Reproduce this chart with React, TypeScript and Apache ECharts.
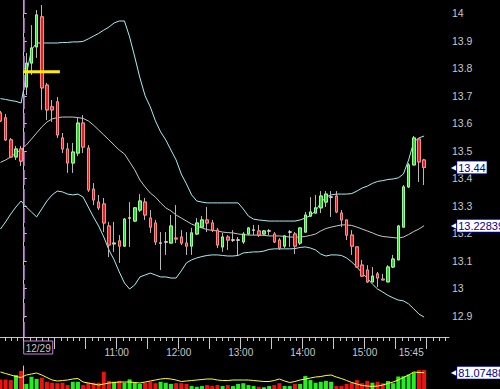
import React, { useEffect, useRef } from 'react';
import * as echarts from 'echarts';

// minutes from 12/29 09:30 (bar centres of 5-minute bars; first five belong to 12/28)
const barTimes = [
  -22.5, -17.5, -12.5, -7.5, -2.5,
  2.5, 7.5, 12.5, 17.5, 22.5, 27.5, 32.5, 37.5, 42.5, 47.5,
  52.5, 57.5, 62.5, 67.5, 72.5, 77.5, 82.5, 87.5, 92.5, 97.5,
  102.5, 107.5, 112.5, 117.5, 122.5, 127.5, 132.5, 137.5, 142.5, 147.5,
  152.5, 157.5, 162.5, 167.5, 172.5, 177.5, 182.5, 187.5, 192.5, 197.5,
  202.5, 207.5, 212.5, 217.5, 222.5, 227.5, 232.5, 237.5, 242.5, 247.5,
  252.5, 257.5, 262.5, 267.5, 272.5, 277.5, 282.5, 287.5, 292.5, 297.5,
  302.5, 307.5, 312.5, 317.5, 322.5, 327.5, 332.5, 337.5, 342.5, 347.5,
  352.5, 357.5, 362.5, 367.5, 372.5, 377.5, 382.5, 387.5,
];

const openP = [
  13.638, 13.620, 13.540, 13.478, 13.507,
  13.732, 13.819, 13.878, 13.987, 13.739, 13.660, 13.678, 13.547, 13.507, 13.456,
  13.492, 13.601, 13.510, 13.361, 13.314, 13.307, 13.227, 13.162, 13.173, 13.154,
  13.256, 13.245, 13.285, 13.314, 13.256, 13.238, 13.165, 13.169, 13.165, 13.183,
  13.187, 13.165, 13.154, 13.198, 13.223, 13.249, 13.238, 13.212, 13.151, 13.187,
  13.176, 13.176, 13.169, 13.198, 13.212, 13.209, 13.198, 13.209, 13.198, 13.176,
  13.154, 13.205, 13.198, 13.165, 13.205, 13.263, 13.274, 13.293, 13.314, 13.332,
  13.336, 13.274, 13.249, 13.194, 13.151, 13.085, 13.067, 13.024, 13.053, 13.034,
  13.024, 13.078, 13.104, 13.223, 13.369, 13.449, 13.543, 13.467,
];
const closeP = [
  13.609, 13.540, 13.478, 13.507, 13.463,
  13.819, 13.874, 13.994, 13.729, 13.649, 13.649, 13.558, 13.507, 13.456, 13.496,
  13.601, 13.514, 13.358, 13.322, 13.293, 13.238, 13.158, 13.165, 13.154, 13.252,
  13.256, 13.293, 13.318, 13.267, 13.223, 13.169, 13.165, 13.169, 13.227, 13.180,
  13.165, 13.154, 13.202, 13.238, 13.249, 13.238, 13.212, 13.158, 13.187, 13.176,
  13.176, 13.176, 13.198, 13.220, 13.212, 13.194, 13.209, 13.209, 13.169, 13.147,
  13.191, 13.205, 13.154, 13.220, 13.267, 13.278, 13.293, 13.336, 13.343, 13.332,
  13.278, 13.249, 13.194, 13.154, 13.078, 13.045, 13.024, 13.045, 13.038, 13.031,
  13.078, 13.107, 13.227, 13.369, 13.449, 13.547, 13.460, 13.44,
];
const lowP = [
  13.605, 13.536, 13.474, 13.467, 13.445,
  13.703, 13.776, 13.838, 13.649, 13.612, 13.605, 13.547, 13.492, 13.420, 13.420,
  13.481, 13.492, 13.351, 13.303, 13.285, 13.205, 13.114, 13.133, 13.093, 13.151,
  13.151, 13.242, 13.278, 13.249, 13.202, 13.158, 13.067, 13.122, 13.165, 13.165,
  13.158, 13.122, 13.122, 13.194, 13.220, 13.205, 13.205, 13.147, 13.133, 13.140,
  13.169, 13.122, 13.162, 13.194, 13.194, 13.187, 13.194, 13.194, 13.165, 13.140,
  13.147, 13.151, 13.125, 13.158, 13.202, 13.260, 13.274, 13.274, 13.296, 13.260,
  13.274, 13.223, 13.176, 13.122, 13.075, 13.042, 13.020, 13.024, 13.005, 13.031,
  13.024, 13.075, 13.104, 13.223, 13.365, 13.449, 13.387, 13.376,
];
const highP = [
  13.645, 13.634, 13.547, 13.518, 13.518,
  13.856, 13.957, 14.012, 14.030, 13.747, 13.685, 13.696, 13.565, 13.529, 13.529,
  13.620, 13.630, 13.521, 13.383, 13.340, 13.329, 13.242, 13.242, 13.194, 13.256,
  13.314, 13.296, 13.343, 13.329, 13.285, 13.249, 13.205, 13.205, 13.267, 13.303,
  13.212, 13.205, 13.220, 13.256, 13.263, 13.296, 13.249, 13.220, 13.202, 13.194,
  13.212, 13.187, 13.205, 13.223, 13.231, 13.231, 13.212, 13.216, 13.205, 13.183,
  13.194, 13.212, 13.205, 13.223, 13.278, 13.332, 13.340, 13.354, 13.354, 13.354,
  13.354, 13.285, 13.249, 13.212, 13.151, 13.104, 13.085, 13.078, 13.060, 13.053,
  13.085, 13.122, 13.231, 13.376, 13.456, 13.554, 13.547, 13.471,
];

const bollUpper = [
  13.690, 13.687, 13.683, 13.680, 13.674,
  13.776, 13.867, 13.892, 13.892, 13.892, 13.892, 13.892, 13.894, 13.894, 13.896,
  13.896, 13.898, 13.907, 13.917, 13.927, 13.939, 13.950, 13.965, 13.972, 13.972,
  13.914, 13.841, 13.765, 13.700, 13.660, 13.609, 13.569, 13.540, 13.503, 13.467,
  13.416, 13.380, 13.340, 13.318, 13.314, 13.311, 13.311, 13.311, 13.311, 13.311,
  13.311, 13.311, 13.289, 13.263, 13.252, 13.249, 13.247, 13.245, 13.245, 13.245,
  13.245, 13.245, 13.245, 13.249, 13.256, 13.265, 13.282, 13.311, 13.332, 13.340,
  13.343, 13.343, 13.343, 13.345, 13.354, 13.365, 13.372, 13.382, 13.389, 13.392,
  13.396, 13.398, 13.402, 13.416, 13.467, 13.532, 13.547, 13.554,
];
const bollMid = [
  13.458, 13.467, 13.478, 13.492, 13.505,
  13.521, 13.543, 13.565, 13.587, 13.605, 13.616, 13.621, 13.623, 13.623, 13.623,
  13.621, 13.618, 13.609, 13.594, 13.576, 13.558, 13.540, 13.521, 13.503, 13.489,
  13.460, 13.431, 13.394, 13.369, 13.347, 13.332, 13.311, 13.293, 13.282, 13.267,
  13.256, 13.245, 13.234, 13.227, 13.220, 13.214, 13.211, 13.209, 13.205, 13.203,
  13.202, 13.198, 13.196, 13.194, 13.194, 13.194, 13.193, 13.191, 13.191, 13.191,
  13.189, 13.187, 13.187, 13.187, 13.189, 13.193, 13.198, 13.209, 13.218, 13.223,
  13.227, 13.231, 13.231, 13.229, 13.223, 13.216, 13.209, 13.202, 13.194, 13.189,
  13.187, 13.185, 13.183, 13.187, 13.196, 13.207, 13.216, 13.22839,
];
const bollLower = [
  13.216, 13.242, 13.271, 13.296, 13.318,
  13.296, 13.278, 13.260, 13.289, 13.318, 13.340, 13.354, 13.351, 13.343, 13.340,
  13.343, 13.332, 13.296, 13.260, 13.227, 13.187, 13.140, 13.104, 13.060, 13.020,
  12.998, 13.013, 13.042, 13.049, 13.056, 13.049, 13.042, 13.042, 13.038, 13.038,
  13.064, 13.093, 13.104, 13.111, 13.116, 13.120, 13.122, 13.122, 13.120, 13.118,
  13.118, 13.120, 13.129, 13.131, 13.133, 13.133, 13.136, 13.142, 13.144, 13.144,
  13.144, 13.144, 13.145, 13.149, 13.151, 13.147, 13.140, 13.125, 13.118, 13.122,
  13.122, 13.120, 13.111, 13.096, 13.078, 13.056, 13.038, 13.016, 12.998, 12.987,
  12.975, 12.966, 12.958, 12.955, 12.944, 12.926, 12.907, 12.896,
];

const volume = [
  53, 53, 50, 71, 89,
  34, 64, 55, 60, 43, 39, 37, 39, 29, 43,
  43, 29, 39, 39, 39, 85, 47, 43, 47, 39,
  53, 39, 34, 39, 43, 37, 43, 39, 34, 37,
  37, 34, 25, 22, 25, 29, 25, 29, 25, 29,
  25, 34, 37, 29, 25, 22, 20, 25, 29, 37,
  25, 25, 34, 34, 67, 50, 39, 43, 47, 43,
  25, 25, 34, 39, 50, 37, 47, 39, 43, 37,
  46, 37, 65, 66, 73, 82, 92, 92,
];
const volumeMA = [
  84.0, 77.7, 71.4, 65.1, 60.9,
  71.4, 75.6, 79.8, 71.4, 60.9, 50.4, 46.2, 48.3, 50.4, 54.6,
  56.7, 42.0, 37.8, 33.6, 29.4, 33.6, 37.8, 39.9, 42.0, 42.0,
  42.0, 39.9, 37.8, 42.0, 46.2, 50.4, 54.6, 56.7, 54.6, 50.4,
  44.1, 46.2, 48.3, 50.4, 52.5, 54.6, 54.6, 50.4, 48.3, 48.3,
  50.4, 50.4, 50.4, 50.4, 48.3, 46.2, 44.1, 44.1, 48.3, 54.6,
  46.2, 39.9, 44.1, 50.4, 54.6, 58.8, 63.0, 65.1, 69.3, 71.4,
  63.0, 56.7, 48.3, 39.9, 33.6, 27.3, 25.2, 23.1, 25.2, 29.4,
  35.7, 42.0, 50.4, 60.9, 71.4, 84.0, 81.9, 81.07488,
];

const priceTicks = [12.9, 13, 13.1, 13.2, 13.3, 13.4, 13.5, 13.6, 13.7, 13.8, 13.9, 14];
const priceTickLabels = ['12.9', '13', '13.1', '13.2', '13.3', '13.4', '13.5', '13.6', '13.7', '13.8', '13.9', '14'];
const timeLabelValues = [90, 150, 210, 270, 330, 375];
const timeLabels = ['11:00', '12:00', '13:00', '14:00', '15:00', '15:45'];
const dayStart = 0;
const dayLabel = '12/29';
const priceMarkers = [13.44, 13.22839];
const priceMarkerLabels = ['13.44', '13.22839'];
const volumeMarkers = [81.07488];
const volumeMarkerLabels = ['81.07488'];
const openingLevel = 13.788;
const openingLevelTimes = [-0.5, 35];

const X_MIN = -22.94;
const X_MAX = 411.6;
const P_MIN = 12.8237;
const P_MAX = 14.0483;
const V_MAX = 109.2;

const FONT = '"Liberation Sans", Arial, sans-serif';

export default function App() {
  const ref = useRef<HTMLDivElement>(null);

  useEffect(() => {
    document.body.style.margin = '0';
    document.body.style.background = '#000';
    if (!ref.current) return;
    const chart = echarts.init(ref.current, undefined, { renderer: 'svg' });

    const majorTicks: number[] = [];
    for (let t = 0; t <= 390; t += 30) majorTicks.push(t);
    const minorTicks: number[] = [];
    for (let t = -18; t <= 408; t += 6) if (t % 30 !== 0) minorTicks.push(t);

    const candleFull = barTimes.map((t, i) => [t, openP[i], closeP[i], lowP[i], highP[i]]);
    const candleBody = barTimes.map((t, i) => {
      const o = openP[i];
      const c = closeP[i];
      const item: any = { value: [t, o, c, Math.min(o, c), Math.max(o, c)] };
      if (o === c) item.itemStyle = { borderColor: '#d8d8d8', borderColor0: '#d8d8d8' };
      return item;
    });
    const line = (arr: number[]) => barTimes.map((t, i) => [t, arr[i]]);
    const volData = barTimes.map((t, i) => ({
      value: [t, volume[i]],
      itemStyle: { color: closeP[i] >= openP[i] ? '#22ee22' : '#ee1111' },
    }));

    const labelBox = {
      a: { color: '#ffffff', fontSize: 8, textBorderColor: '#000080', textBorderWidth: 1, fontFamily: 'DejaVu Sans' },
      b: {
        backgroundColor: '#ffffff',
        borderColor: '#000080',
        borderWidth: 1,
        color: '#000099',
        fontSize: 11,
        lineHeight: 11,
        padding: [1, 1, 0, 1],
        fontFamily: FONT,
      },
    };

    chart.setOption({
      animation: false,
      backgroundColor: '#000000',
      grid: [
        { left: 0, top: 0, width: 449, height: 337, containLabel: false, outerBoundsMode: 'none' },
        { left: 0, top: 366, width: 449, height: 26, containLabel: false, outerBoundsMode: 'none' },
      ],
      xAxis: [
        {
          type: 'value', gridIndex: 0, min: X_MIN, max: X_MAX, position: 'bottom',
          axisLine: { show: true, lineStyle: { color: '#c8c8c8', width: 1 } },
          axisTick: { show: true, customValues: majorTicks, length: 12, lineStyle: { color: '#c8c8c8' } },
          axisLabel: {
            show: true, customValues: timeLabelValues, margin: 10,
            formatter: (v: number) => timeLabels[timeLabelValues.indexOf(v)] ?? '',
            color: '#c8c8c8', fontSize: 10, fontFamily: FONT,
          },
          splitLine: { show: false },
        },
        {
          type: 'value', gridIndex: 0, min: X_MIN, max: X_MAX, position: 'bottom',
          axisLine: { show: false },
          axisTick: { show: true, customValues: minorTicks, length: 4, lineStyle: { color: '#c8c8c8' } },
          axisLabel: { show: false },
          splitLine: { show: false },
        },
        {
          type: 'value', gridIndex: 0, min: X_MIN, max: X_MAX, position: 'bottom',
          axisLine: { show: false },
          axisTick: { show: false },
          axisLabel: {
            show: true, customValues: [dayStart], margin: 4, align: 'left',
            formatter: () => dayLabel,
            color: '#c8c8c8', fontSize: 10, fontFamily: FONT,
            borderColor: '#c67fe0', borderWidth: 1, padding: [2, 2, 1, 2],
          },
          splitLine: { show: false },
        },
        {
          type: 'value', gridIndex: 1, min: X_MIN, max: X_MAX, show: false,
          splitLine: { show: false },
        },
      ],
      yAxis: [
        {
          type: 'value', gridIndex: 0, min: P_MIN, max: P_MAX, position: 'right',
          axisLine: { show: true, lineStyle: { color: '#c8c8c8', width: 1 } },
          axisTick: { show: true, customValues: priceTicks, length: 3, lineStyle: { color: '#c8c8c8' } },
          axisLabel: {
            show: true, customValues: priceTicks, margin: 3, align: 'left',
            formatter: (v: number) => priceTickLabels[priceTicks.indexOf(v)] ?? '',
            color: '#c8c8c8', fontSize: 10.5, fontFamily: FONT,
          },
          splitLine: { show: false },
        },
        {
          type: 'value', gridIndex: 0, min: P_MIN, max: P_MAX, position: 'right',
          axisLine: { show: false },
          axisTick: { show: false },
          axisLabel: {
            show: true, customValues: priceMarkers, margin: 2, align: 'left',
            formatter: (v: number) => `{a|◀}{b|${priceMarkerLabels[priceMarkers.indexOf(v)] ?? ''}}`,
            rich: labelBox,
          },
          splitLine: { show: false },
        },
        {
          type: 'value', gridIndex: 1, min: 0, max: V_MAX, position: 'right',
          axisLine: { show: true, lineStyle: { color: '#c8c8c8', width: 1 } },
          axisTick: { show: false },
          axisLabel: {
            show: true, customValues: volumeMarkers, margin: 2, align: 'left',
            formatter: (v: number) => `{a|◀}{b|${volumeMarkerLabels[volumeMarkers.indexOf(v)] ?? ''}}`,
            rich: labelBox,
          },
          splitLine: { show: false },
        },
      ],
      series: [
        {
          type: 'line', xAxisIndex: 0, yAxisIndex: 0, data: line(bollUpper),
          showSymbol: false, symbol: 'none', lineStyle: { color: '#a6eef2', width: 1 }, z: 2,
        },
        {
          type: 'line', xAxisIndex: 0, yAxisIndex: 0, data: line(bollMid),
          showSymbol: false, symbol: 'none', lineStyle: { color: '#c8c8c8', width: 1 }, z: 2,
        },
        {
          type: 'line', xAxisIndex: 0, yAxisIndex: 0, data: line(bollLower),
          showSymbol: false, symbol: 'none', lineStyle: { color: '#a6eef2', width: 1 }, z: 2,
        },
        {
          type: 'candlestick', xAxisIndex: 0, yAxisIndex: 0, data: candleFull,
          encode: { x: 0, y: [1, 2, 3, 4] }, barWidth: 3, z: 3,
          itemStyle: { color: '#33cc33', color0: '#dd2222', borderColor: '#b8b8b8', borderColor0: '#b8b8b8', borderWidth: 1 },
          markLine: {
            silent: true, symbol: ['none', 'none'], label: { show: false },
            lineStyle: { color: '#c67fe0', type: [15, 4], width: 1.5 },
            data: [{ xAxis: dayStart }],
          },
        },
        {
          type: 'candlestick', xAxisIndex: 0, yAxisIndex: 0, data: candleBody,
          encode: { x: 0, y: [1, 2, 3, 4] }, barWidth: 3, z: 4,
          itemStyle: { color: '#33cc33', color0: '#dd2222', borderColor: '#99ff99', borderColor0: '#ff8a8a', borderWidth: 1 },
        },
        {
          type: 'line', xAxisIndex: 0, yAxisIndex: 0,
          data: openingLevelTimes.map((t) => [t, openingLevel]),
          showSymbol: false, symbol: 'none', lineStyle: { color: '#ffee00', width: 3 }, z: 6,
        },
        {
          type: 'bar', xAxisIndex: 3, yAxisIndex: 2, data: volData, barWidth: 4, z: 2,
        },
        {
          type: 'line', xAxisIndex: 3, yAxisIndex: 2, data: line(volumeMA),
          showSymbol: false, symbol: 'none', lineStyle: { color: '#ffff33', width: 1 }, z: 3,
        },
      ],
    });

    return () => chart.dispose();
  }, []);

  return <div ref={ref} style={{ width: 500, height: 389, background: '#000' }} />;
}
